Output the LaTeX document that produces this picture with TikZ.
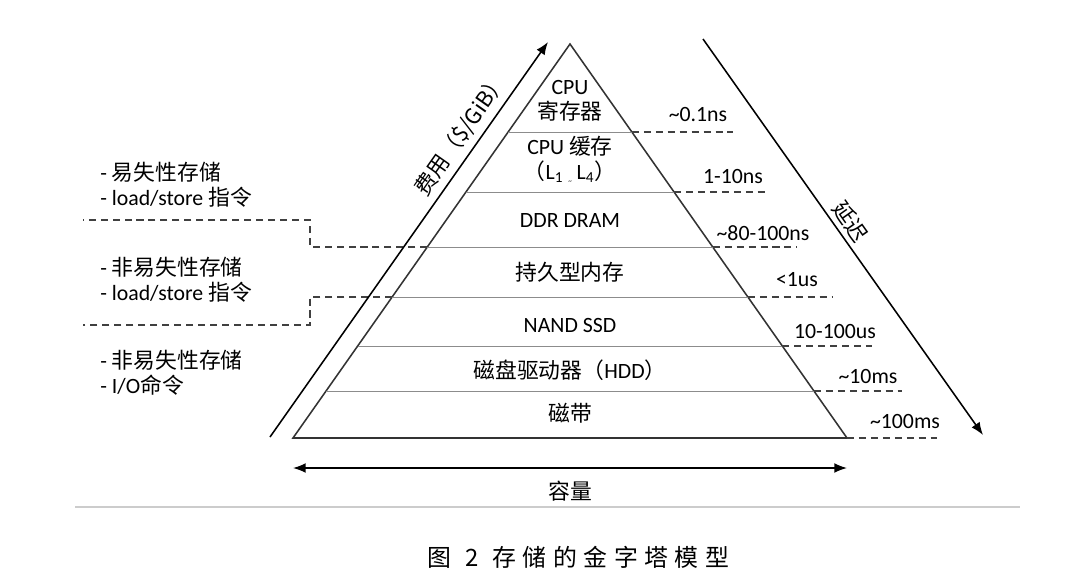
\documentclass[tikz,border=0pt]{standalone}
\usepackage{fontspec}
\setmainfont{Carlito}
\newfontfamily\cjk{Noto Sans CJK SC}
\newfontfamily\capfont[LetterSpace=27]{Noto Sans CJK SC}
\usetikzlibrary{arrows.meta}
\usetikzlibrary{calc}

\tikzset{
  layer/.style={draw=black!45, line width=0.7pt},
  level/.style={draw=black!75, line width=1pt, dash pattern=on 5pt off 3.5pt},
  txt/.style={font=\fontsize{15.5}{17.7}\selectfont, inner sep=0pt, align=center},
  axis/.style={draw=black, line width=1.1pt, -{Latex[length=9pt,width=7pt]}},
}

\begin{document}
\begin{tikzpicture}[x=0.025cm, y=-0.025cm]
  \useasboundingbox (0,0) rectangle (1080,580);
  % storage pyramid
  \coordinate (top) at (570,44);
  \coordinate (bl) at (293,438);
  \coordinate (br) at (847,438);
  \draw[black!80, line width=1.1pt] (bl) -- (top) -- (br) -- cycle;
  \foreach \n/\y in {1/132,2/192,3/247,4/297,5/346,6/391}{
    \coordinate (l\n) at ($(top)!{(\y-44)/394}!(bl)$);
    \coordinate (r\n) at ($(top)!{(\y-44)/394}!(br)$);
    \draw[layer] (l\n) -- (r\n);
  }
  \coordinate (r7) at (br);

  % layers
  \node[txt] (reg) at (570,101) {CPU\\{\cjk 寄存器}};
  \node[txt] (cache) at (570,160) {CPU {\cjk 缓存}\\{\cjk （}L\textsubscript{1} \raisebox{-.4ex}{\tiny\textasciitilde} L\textsubscript{4}{\cjk ）}};
  \node[txt] (dram) at (570,221) {DDR DRAM};
  \node[txt] (pmem) at (570,272) {\cjk 持久型内存};
  \node[txt] (ssd) at (570,325) {NAND SSD};
  \node[txt] (hdd) at (570,370) {{\cjk 磁盘驱动器（}HDD{\cjk ）}};
  \node[txt] (tape) at (570,413) {\cjk 磁带};

  % latency levels
  \foreach \n/\xe in {1/733,2/765,3/797,4/832,5/872,6/902,7/937}{
    \coordinate (e\n) at (\xe,0 |- r\n);
    \draw[level] (r\n) -- (e\n);
  }
  \node[txt] (lat1) at (698,115) {\textasciitilde0.1ns};
  \node[txt] (lat2) at (733,177) {1-10ns};
  \node[txt] (lat3) at (763,233) {\textasciitilde80-100ns};
  \node[txt] (lat4) at (797,280) {<1us};
  \node[txt] (lat5) at (835,332) {10-100us};
  \node[txt] (lat6) at (868,377) {\textasciitilde10ms};
  \node[txt] (lat7) at (905,422) {\textasciitilde100ms};

  % access classes
  \coordinate (k1) at (310,220);
  \coordinate (g1) at (83,220);
  \coordinate (k2) at (310,325);
  \coordinate (g2) at (83,325);
  \draw[level] (l3) -| (k1) -- (g1);
  \draw[level] (l4) -| (k2) -- (g2);
  \node[txt, align=left, anchor=west] (vol) at (100,185) {- {\cjk 易失性存储}\\- load/store {\cjk 指令}};
  \node[txt, align=left, anchor=west] (nvm) at (100,280) {- {\cjk 非易失性存储}\\- load/store {\cjk 指令}};
  \node[txt, align=left, anchor=west] (blk) at (100,373) {- {\cjk 非易失性存储}\\- I/O{\cjk 命令}};

  % axes
  \coordinate (c0) at (270,437);
  \coordinate (c1) at (548,42);
  \draw[axis] (c0) -- (c1) node[txt, pos=0.74, above=4pt, sloped] (cost) {\cjk 费用（\$/GiB）};
  \coordinate (t0) at (703,39);
  \coordinate (t1) at (983,435);
  \draw[axis] (t0) -- (t1) node[txt, pos=0.483, above=3pt, sloped] (delay) {\cjk 延迟};
  \coordinate (w0) at (293,468);
  \coordinate (w1) at (847,468);
  \draw[axis, {Latex[length=9pt,width=7pt]}-{Latex[length=9pt,width=7pt]}] (w0) -- (w1);
  \node[txt] (cap) at (570,491) {\cjk 容量};

  % caption
  \draw[black!20, line width=1.5pt] (75,507) -- (1020,507);
  \node[inner sep=0pt, anchor=west, font=\capfont\fontsize{17}{20}\selectfont] (title) at (427,557) {图\hspace{10pt}2\hspace{10pt}存储的金字塔模型};
\end{tikzpicture}
\end{document}
